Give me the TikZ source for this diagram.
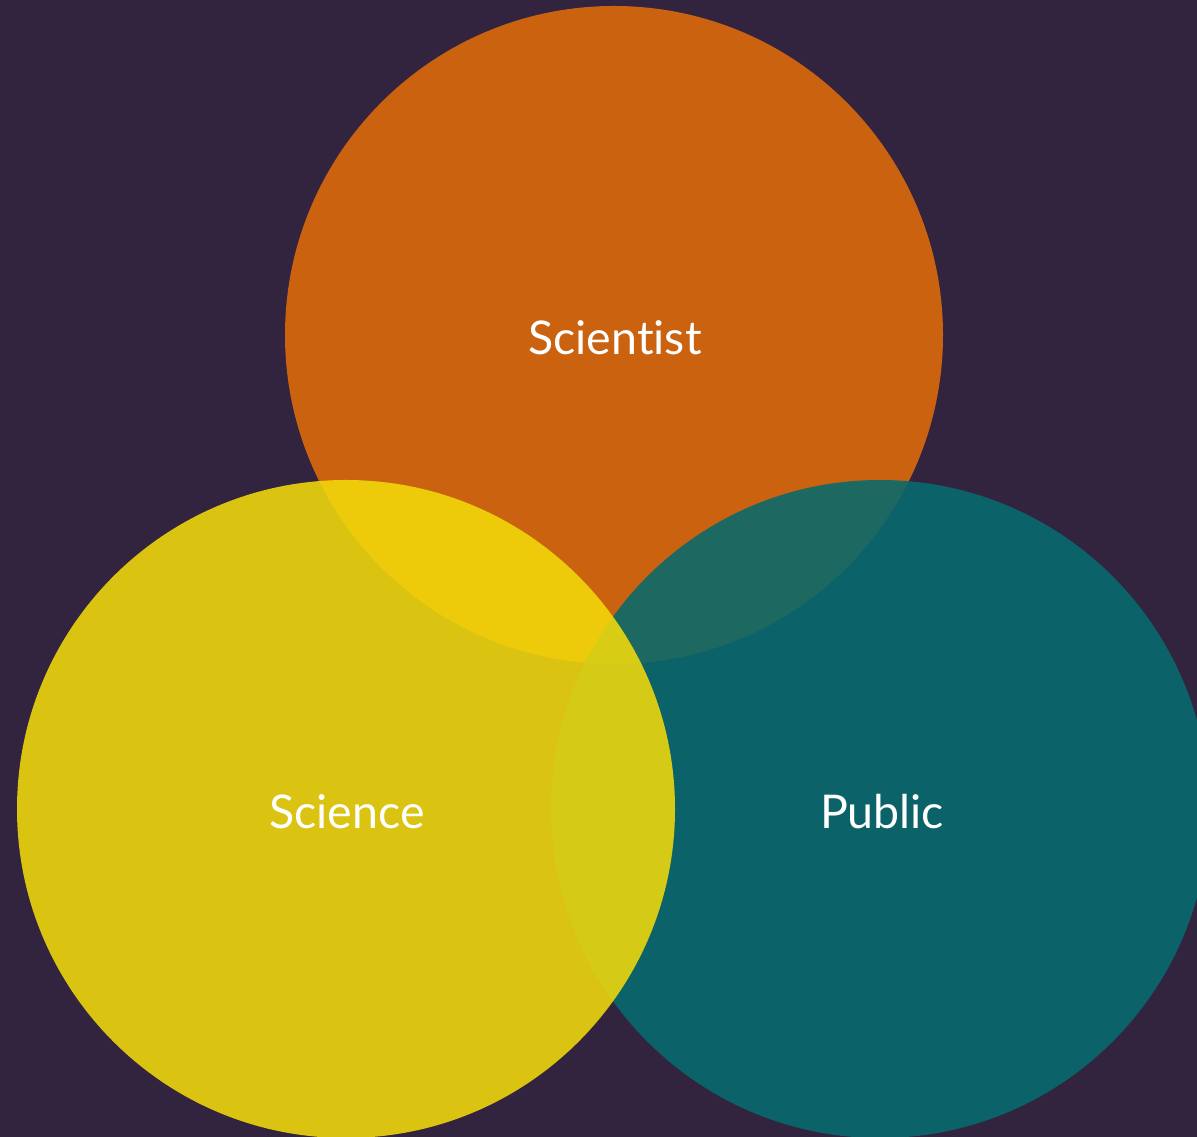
\documentclass[tikz,border=0pt]{standalone}
\usepackage{fontspec}
\setmainfont[Ligatures={NoCommon,NoRare}]{Lato}
\definecolor{bgc}{RGB}{50,35,63}
\definecolor{orangec}{RGB}{224,107,10}
\definecolor{tealc}{RGB}{6,107,110}
\definecolor{yellowc}{RGB}{242,218,11}
\begin{document}
\begin{tikzpicture}[x=1pt,y=1pt,
  setcircle/.style={circle,minimum size=658pt,inner sep=0pt,fill opacity=0.88,text opacity=1},
  lbl/.style={text=white,font=\fontsize{46.5}{52}\selectfont}]
\useasboundingbox (0,0) rectangle (1197,1137);
\fill[bgc] (0,0) rectangle (1197,1137);
\clip (0,0) rectangle (1197,1137);
\node[setcircle,fill=orangec] (scientist) at (614,802) {};
\node[setcircle,fill=tealc] (public) at (880,328) {};
\node[setcircle,fill=yellowc] (science) at (346,328) {};
\node[lbl] (tscientist) at (615,799) {Scientist};
\node[lbl] (tscience) at (347,325) {Science};
\node[lbl] (tpublic) at (882,325) {Public};
\end{tikzpicture}
\end{document}
